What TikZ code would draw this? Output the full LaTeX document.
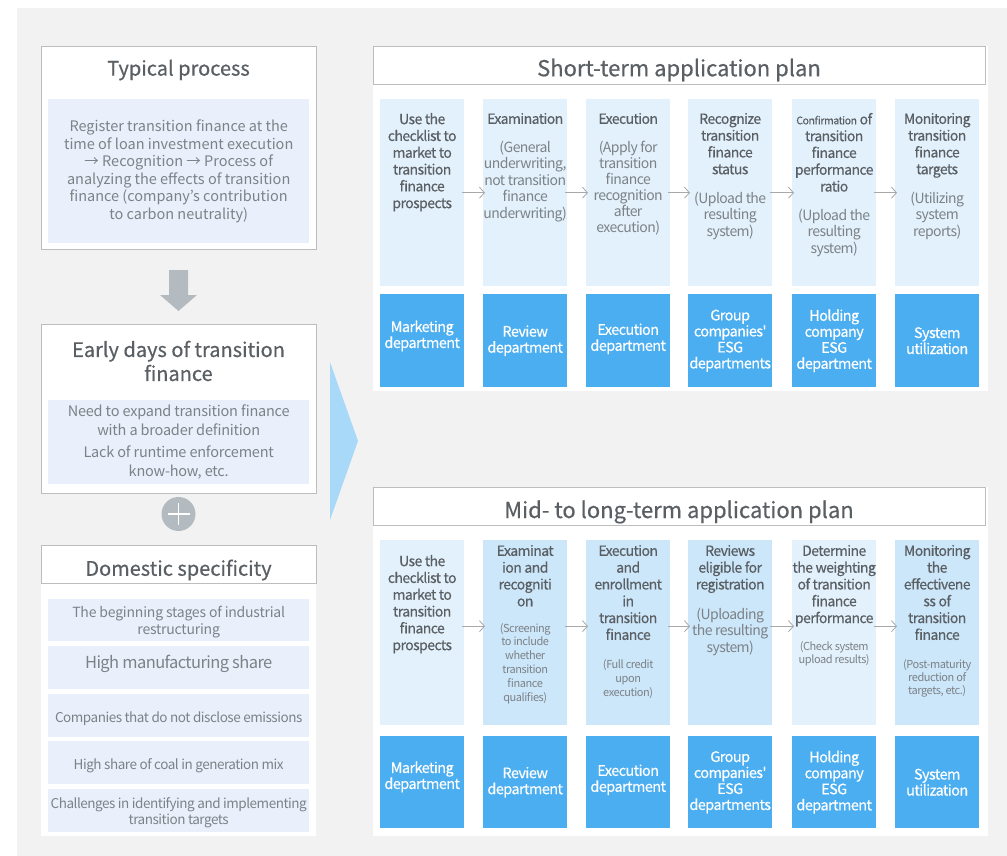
\documentclass[tikz,border=0pt]{standalone}
\usepackage{fontspec}
\setmainfont{Noto Sans CJK KR}
\newfontfamily\colfont[LetterSpace=-4]{Noto Sans CJK KR}
\newfontfamily\colhfont[LetterSpace=-4,FakeBold=0.4]{Noto Sans CJK KR}
\newfontfamily\titlefont[FakeBold=0.5]{Noto Sans CJK KR}
\newfontfamily\midfont[LetterSpace=-1.5]{Noto Sans CJK KR}
\newfontfamily\tightfont[LetterSpace=-3.5]{Noto Sans CJK KR}
\usetikzlibrary{arrows.meta}
\definecolor{bgc}{HTML}{F2F2F2}
\definecolor{bordc}{HTML}{BDBDBD}
\definecolor{lavc}{HTML}{E9F0FC}
\definecolor{lb1}{HTML}{E3F1FC}
\definecolor{lb2}{HTML}{CCE6FA}
\definecolor{dbc}{HTML}{4BAEF1}
\definecolor{txc}{HTML}{5A5F63}
\definecolor{txl}{HTML}{7C8286}
\definecolor{arrc}{HTML}{B4BBC0}
\definecolor{trc}{HTML}{A9D9F8}
\definecolor{linec}{HTML}{A8A8A8}
\tikzset{
  whitebox/.style={draw=bordc, line width=1pt, fill=white, anchor=north west, inner sep=0pt},
  lavbox/.style={fill=lavc, anchor=north west, inner sep=0pt},
  colbox/.style={fill=#1, anchor=north west, inner sep=0pt, minimum width=84pt},
  deptbox/.style={fill=dbc, anchor=north west, inner sep=0pt, minimum width=84pt, text=white, align=center, font=\colhfont\fontsize{14.5}{16}\selectfont},
  bigtitle/.style={text=txc, font=\titlefont\fontsize{20}{24}\selectfont, align=center},
  plantitle/.style={text=txc, font=\titlefont\fontsize{22}{26}\selectfont},
  lavtext/.style={text=txl, align=center, font=\fontsize{14.5}{17.5}\selectfont},
  coltext/.style={text=txc, align=center, anchor=north, inner sep=0pt, font=\colhfont\fontsize{14}{16.8}\selectfont},
  subtext/.style={text=txl, align=center, anchor=north, inner sep=0pt, font=\colfont\fontsize{14}{16.5}\selectfont},
  smalltext/.style={text=txl, align=center, anchor=north, inner sep=0pt, font=\colfont\fontsize{11}{#1}\selectfont},
  flow/.style={draw=linec, line width=0.8pt, -{Straight Barb[length=5pt,width=11pt]}, shorten <=-2pt, shorten >=-2pt}
}
\begin{document}
\begin{tikzpicture}[x=1pt,y=-1pt]
\useasboundingbox (0,0) rectangle (1007,856);
\fill[white] (0,0) rectangle (1007,856);
\fill[bgc] (17,8) rectangle (1007,856);

% ---------- Left column ----------
\node[whitebox, minimum width=275pt, minimum height=203pt] (tp) at (41,46) {};
\node[bigtitle] (tpt) at (178.5,70) {Typical process};
\node[lavbox, minimum width=261pt, minimum height=144pt] (tpb) at (48,99) {};
\node[lavtext] (tpx) at (tpb.center) {Register transition finance at the\\time of loan investment execution\\→ Recognition → Process of\\analyzing the effects of transition\\finance (company's contribution\\to carbon neutrality)};

\fill[arrc] (169,270) -- (188,270) -- (188,295) -- (197,295) -- (178.5,311) -- (160,295) -- (169,295) -- cycle;

\node[whitebox, minimum width=275pt, minimum height=169pt] (ed) at (41,324) {};
\node[bigtitle] (edt) at (178.5,361) {Early days of transition\\finance};
\node[lavbox, minimum width=261pt, minimum height=84pt] (edb) at (48,400) {};
\node[lavtext, font=\midfont\fontsize{14.5}{18.5}\selectfont] (edx) at (edb.center) {Need to expand transition finance\\with a broader definition\\[4pt]Lack of runtime enforcement\\know-how, etc.};

\node[circle, fill=arrc, minimum size=34pt, inner sep=0pt] (plus) at (178.5,514) {};
\draw[white, line width=1.3pt] (plus.center) ++(-11,0) -- ++(22,0);
\draw[white, line width=1.3pt] (plus.center) ++(0,-11) -- ++(0,22);

\fill[trc] (330,362) -- (358,441) -- (330,520) -- cycle;

\fill[white] (41,545) rectangle (316,836);
\node[whitebox, minimum width=275pt, minimum height=38pt] (ds) at (41,545) {};
\node[bigtitle] (dst) at (178.5,570) {Domestic specificity};
\node[lavbox, minimum width=261pt, minimum height=42pt] (d1) at (48,599) {};
\node[lavtext, font=\midfont\fontsize{14}{17}\selectfont] at ([yshift=-1.5pt]d1.center) {The beginning stages of industrial\\restructuring};
\node[lavbox, minimum width=261pt, minimum height=43pt] (d2) at (48,646) {};
\node[lavtext, font=\tightfont\fontsize{16.5}{19}\selectfont] at ([yshift=4pt]d2.center) {High manufacturing share};
\node[lavbox, minimum width=261pt, minimum height=43pt] (d3) at (48,694) {};
\node[lavtext, font=\tightfont\fontsize{13.5}{16}\selectfont] at ([yshift=-2.5pt]d3.center) {Companies that do not disclose emissions};
\node[lavbox, minimum width=261pt, minimum height=43pt] (d4) at (48,741) {};
\node[lavtext, font=\tightfont\fontsize{13.5}{16}\selectfont] at ([yshift=-3.5pt]d4.center) {High share of coal in generation mix};
\node[lavbox, minimum width=261pt, minimum height=43pt] (d5) at (48,789) {};
\node[lavtext, font=\tightfont\fontsize{13.5}{16}\selectfont] at ([yshift=-2.5pt]d5.center) {Challenges in identifying and implementing\\transition targets};

% ---------- Short-term panel ----------
\fill[white] (373,46) rectangle (988,391);
\node[whitebox, minimum width=612pt, minimum height=38pt] (sh) at (373,46) {};
\node[plantitle] (sht) at (679,70) {Short-term application plan};

\foreach \i/\x in {1/380,2/483,3/586,4/688,5/792,6/895}{
  \node[colbox=lb1, minimum height=187pt] (s\i) at (\x,99) {};
}
\node[deptbox, minimum height=93pt] (sd1) at (380,294) {Marketing\\department\\[-3pt]};
\node[deptbox, minimum height=93pt] (sd2) at (483,294) {Review\\department};
\node[deptbox, minimum height=93pt] (sd3) at (586,294) {Execution\\department\\[-9pt]};
\node[deptbox, minimum height=93pt] (sd4) at (688,294) {Group\\companies'\\ESG\\departments};
\node[deptbox, minimum height=93pt] (sd5) at (792,294) {Holding\\company\\ESG\\department};
\node[deptbox, minimum height=93pt] (sd6) at (895,294) {System\\utilization};

\node[coltext] (s1h) at (s1.north |- 0,112.8) {Use the\\checklist to\\market to\\transition\\finance\\prospects};
\node[coltext] (s2h) at (s2.north |- 0,112.8) {Examination};
\node[subtext] (s2s) at (s2.north |- 0,140.8) {(General\\underwriting,\\not transition\\finance\\underwriting)};
\node[coltext] (s3h) at (s3.north |- 0,112.8) {Execution};
\node[subtext, font=\colfont\fontsize{14}{16}\selectfont] (s3s) at (s3.north |- 0,140.8) {(Apply for\\transition\\finance\\recognition\\after\\execution)};
\node[coltext] (s4h) at (s4.north |- 0,112.8) {Recognize\\transition\\finance\\status};
\node[subtext] (s4s) at (s4.north |- 0,191.8) {(Upload the\\resulting\\system)};
\node[coltext] (s5h) at (s5.north |- 0,112.8) {{\fontsize{10.5}{12}\selectfont Confirmation} of\\transition\\finance\\performance\\ratio};
\node[subtext] (s5s) at (s5.north |- 0,208.8) {(Upload the\\resulting\\system)};
\node[coltext] (s6h) at (s6.north |- 0,112.8) {Monitoring\\transition\\finance\\targets};
\node[subtext] (s6s) at (s6.north |- 0,191.8) {(Utilizing\\system\\reports)};

\foreach \a/\b in {1/2,2/3,3/4,4/5,5/6}{
  \draw[flow] (s\a.east) -- (s\b.west);
}

% ---------- Mid- to long-term panel ----------
\fill[white] (373,487) rectangle (988,836);
\node[whitebox, minimum width=612pt, minimum height=38pt] (mh) at (373,487) {};
\node[plantitle] (mht) at (679,512) {Mid- to long-term application plan};

\foreach \i/\x/\c in {1/380/lb1,2/483/lb2,3/586/lb2,4/688/lb2,5/792/lb1,6/895/lb2}{
  \node[colbox=\c, minimum height=185pt] (m\i) at (\x,540) {};
}
\node[deptbox, minimum height=92pt] (md1) at (380,736) {Marketing\\department\\[-2pt]};
\node[deptbox, minimum height=92pt] (md2) at (483,736) {Review\\department};
\node[deptbox, minimum height=92pt] (md3) at (586,736) {Execution\\department\\[-8pt]};
\node[deptbox, minimum height=92pt] (md4) at (688,736) {Group\\companies'\\ESG\\departments};
\node[deptbox, minimum height=92pt] (md5) at (792,736) {Holding\\company\\ESG\\department};
\node[deptbox, minimum height=92pt] (md6) at (895,736) {System\\utilization};

\node[coltext] (m1h) at (m1.north |- 0,554.8) {Use the\\checklist to\\market to\\transition\\finance\\prospects};
\node[coltext] (m2h) at (m2.north |- 0,544.8) {Examinat\\ion and\\recogniti\\on};
\node[smalltext=13.8] (m2s) at (m2.north |- 0,622.8) {(Screening\\to include\\whether\\transition\\finance\\qualifies)};
\node[coltext] (m3h) at (m3.north |- 0,544.8) {Execution\\and\\enrollment\\in\\transition\\finance};
\node[smalltext=14] (m3s) at (m3.north |- 0,658.8) {(Full credit\\upon\\execution)};
\node[coltext] (m4h) at (m4.north |- 0,544.8) {Reviews\\eligible for\\registration};
\node[subtext] (m4s) at (m4.north |- 0,607.8) {(Uploading\\the resulting\\system)};
\node[coltext] (m5h) at (m5.north |- 0,544.8) {Determine\\the weighting\\of transition\\finance\\performance};
\node[smalltext=13] (m5s) at (m5.north |- 0,640.8) {(Check system\\upload results)};
\node[coltext] (m6h) at (m6.north |- 0,544.8) {Monitoring\\the\\effectivene\\ss of\\transition\\finance};
\node[smalltext=13] (m6s) at (m6.north |- 0,658.8) {(Post-maturity\\reduction of\\targets, etc.)};

\foreach \a/\b in {1/2,2/3,3/4,4/5,5/6}{
  \draw[flow] ([yshift=6.5pt]m\a.east) -- ([yshift=6.5pt]m\b.west);
}
\end{tikzpicture}
\end{document}
